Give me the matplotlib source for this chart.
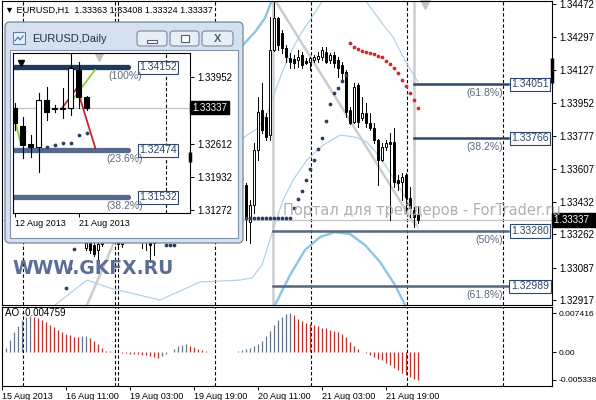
import matplotlib.pyplot as plt
from matplotlib.patches import Rectangle, FancyBboxPatch
from matplotlib.transforms import blended_transform_factory as blend

plt.rcParams['font.family'] = ['Liberation Sans', 'DejaVu Sans']

# ---------------- H1 data (bar index, 4 px per bar) ----------------
h1_bar = [21, 22, 23, 24, 25, 29, 30, 35, 36, 37, 38] + list(range(61, 105))
h1_open = [1.33190, 1.33217, 1.33206, 1.33180, 1.33211, 1.33232, 1.33211, 1.33232, 1.33222, 1.33232, 1.33232,
           1.33521, 1.33327, 1.33416, 1.33705, 1.33915, 1.33878, 1.33784, 1.34230, 1.34398, 1.34320,
           1.34241, 1.34188, 1.34183, 1.34178, 1.34204, 1.34173, 1.34167, 1.34178, 1.34183, 1.34194,
           1.34220, 1.34178, 1.34204, 1.34178, 1.34152, 1.34115, 1.33915, 1.33852, 1.34047, 1.33873,
           1.33899, 1.33847, 1.33821, 1.33758, 1.33653, 1.33721, 1.33747, 1.33747, 1.33547, 1.33537,
           1.33574, 1.33453, 1.33390, 1.33363]
h1_high = [1.33243, 1.33243, 1.33243, 1.33232, 1.33253, 1.33253, 1.33253, 1.33253, 1.33253, 1.33253, 1.33253,
           1.33532, 1.33442, 1.33742, 1.33983, 1.34057, 1.33899, 1.34404, 1.34483, 1.34404, 1.34335,
           1.34257, 1.34215, 1.34204, 1.34230, 1.34220, 1.34188, 1.34194, 1.34204, 1.34220, 1.34246,
           1.34246, 1.34215, 1.34220, 1.34194, 1.34167, 1.34125, 1.33931, 1.34057, 1.34057, 1.33983,
           1.33952, 1.33899, 1.33847, 1.33763, 1.33742, 1.33758, 1.33794, 1.33821, 1.33574, 1.33584,
           1.33584, 1.33511, 1.33406, 1.33408]
h1_low = [1.33180, 1.33164, 1.33148, 1.33117, 1.33201, 1.33190, 1.33195, 1.33190, 1.33180, 1.33117, 1.33153,
          1.33232, 1.33217, 1.33374, 1.33653, 1.33794, 1.33758, 1.33758, 1.34225, 1.34230, 1.34215,
          1.34167, 1.34136, 1.34136, 1.34141, 1.34136, 1.34157, 1.34125, 1.34167, 1.34167, 1.34178,
          1.34162, 1.34162, 1.34141, 1.34089, 1.34062, 1.33878, 1.33842, 1.33847, 1.33826, 1.33863,
          1.33826, 1.33810, 1.33742, 1.33521, 1.33648, 1.33705, 1.33337, 1.33511, 1.33495, 1.33442,
          1.33374, 1.33353, 1.33301, 1.33324]
h1_close = [1.33217, 1.33180, 1.33159, 1.33211, 1.33232, 1.33211, 1.33227, 1.33222, 1.33232, 1.33206, 1.33217,
            1.33353, 1.33416, 1.33705, 1.33905, 1.33810, 1.33773, 1.34230, 1.34398, 1.34257, 1.34241,
            1.34194, 1.34167, 1.34162, 1.34194, 1.34152, 1.34162, 1.34188, 1.34194, 1.34199, 1.34230,
            1.34167, 1.34204, 1.34162, 1.34136, 1.34110, 1.33905, 1.33847, 1.34036, 1.33852, 1.33899,
            1.33847, 1.33821, 1.33758, 1.33653, 1.33721, 1.33742, 1.33736, 1.33537, 1.33532, 1.33563,
            1.33458, 1.33400, 1.33353, 1.33337]

# parabolic SAR
sar_up_bar = [16, 17, 18, 41, 42, 43] + list(range(61, 87))
sar_up = [1.32980, 1.33085, 1.33185, 1.33206, 1.33206, 1.33206,
          1.33348, 1.33348, 1.33348, 1.33348, 1.33348, 1.33348, 1.33348, 1.33348, 1.33348, 1.33348,
          1.33348, 1.33348, 1.33400, 1.33448, 1.33490, 1.33547, 1.33605, 1.33653, 1.33710, 1.33768,
          1.33857, 1.33947, 1.34004, 1.34031, 1.34068, 1.34099]
sar_dn_bar = list(range(87, 105))
sar_dn = [1.34267, 1.34246, 1.34236, 1.34225, 1.34220, 1.34215, 1.34209, 1.34199, 1.34194,
          1.34173, 1.34157, 1.34136, 1.34110, 1.34073, 1.34041, 1.34004, 1.33968, 1.33926]

# band lines (bar position, price)
thick_a_x = [60.25, 63.25, 65.75, 67.5]
thick_a_y = [1.34257, 1.34325, 1.34398, 1.34493]
thick_b_x = [68.25, 72.0, 75.75, 79.5, 83.25, 85.0, 87.0, 90.75, 94.5, 98.25, 100.75]
thick_b_y = [1.32891, 1.33048, 1.33180, 1.33248, 1.33274, 1.33269, 1.33264, 1.33206, 1.33117, 1.32996, 1.32891]
thin_up_x = [90.75, 95.75, 97.75, 100.25, 104.0]
thin_up_y = [1.34493, 1.34351, 1.34299, 1.34194, 1.34062]
thin_mid_x = [60.25, 64.0, 66.5, 67.75, 70.25, 72.75, 74.5, 77.5, 80.25]
thin_mid_y = [1.33768, 1.33821, 1.33905, 1.33983, 1.34125, 1.34241, 1.34309, 1.34404, 1.34493]
thin_lo_x = [13.25, 21.25, 27.0, 39.5, 49.5, 59.5, 62.5, 65.0, 67.75, 70.25, 72.75, 76.25, 80.25,
             84.5, 88.25, 91.25, 94.5, 97.75, 101.25, 104.0]
thin_lo_y = [1.32891, 1.33022, 1.32980, 1.32917, 1.33012, 1.33022, 1.33033, 1.33101, 1.33285, 1.33442,
             1.33547, 1.33653, 1.33731, 1.33784, 1.33773, 1.33747, 1.33668, 1.33563, 1.33442, 1.33295]

trend1_x = [68.25, 103.25]
trend1_y = [1.34493, 1.33311]
trend2_x = [21.25, 34.5]
trend2_y = [1.32891, 1.33537]

# Fibonacci objects
fib_lv = [1.34051, 1.33766, 1.33280, 1.32989]
fib_pct = ['(61.8%)', '(38.2%)', '(50%)', '(61.8%)']
fib_start = [103.0, 103.0, 67.75, 67.75]
fib_col = ['#2d4868', '#2d4868', '#56677d', '#56677d']

# AO histogram
ao = [-0.00075, 0.00082, 0.00226, 0.00383, 0.00509, 0.00616, 0.00679, 0.00691, 0.00679, 0.00647,
      0.00616, 0.00572, 0.00528, 0.00478, 0.00427, 0.00383, 0.00352, 0.00321, 0.00295, 0.00289,
      0.00314, 0.00316, 0.00277, 0.00214, 0.00151, 0.00075, 0.00025, 0.00013, 0.00006, 0.00002,
      -0.00013, -0.00025, -0.00031, -0.00038, -0.00044, -0.00050, -0.00063, -0.00075, -0.00094, -0.00107,
      -0.00075, -0.00044, 0.00006, 0.00057, 0.00107, 0.00138, 0.00145, 0.00119, 0.00088, 0.00063,
      0.00038, 0.00019, 0.00006, 0.00003, 0.00002, 0.00001, -0.00002, -0.00005, 0.00001, 0.00013,
      0.00031, 0.00050, 0.00075, 0.00113, 0.00157, 0.00214, 0.00302, 0.00396, 0.00522, 0.00616,
      0.00679, 0.00723, 0.007416, 0.00704, 0.00641, 0.00603, 0.00566, 0.00541, 0.00515, 0.00497,
      0.00471, 0.00453, 0.00427, 0.00409, 0.00383, 0.00346, 0.00283, 0.00201, 0.00113, 0.00050,
      0.00006, -0.00025, -0.00063, -0.00094, -0.00126, -0.00163, -0.00207, -0.00258, -0.00302, -0.00352,
      -0.00396, -0.00440, -0.00478, -0.00515, -0.005338]

day_sep = [5.25, 28.25, 29.0, 53.25, 77.25, 101.25, 125.25]
time_ticks = [0, 16, 32, 48, 64, 80, 96]
time_labels = ['15 Aug 2013', '16 Aug 11:00', '19 Aug 03:00', '19 Aug 19:00',
               '20 Aug 11:00', '21 Aug 03:00', '21 Aug 19:00']
price_ticks = [1.34472, 1.34297, 1.34127, 1.33952, 1.33777, 1.33607, 1.33432, 1.33262, 1.33087, 1.32917]
ao_ticks = [0.007416, 0.0, -0.005338]
ao_tick_labels = ['0.007416', '0.00', '-0.005338']
last_price = 1.33337

# ---------------- Daily data (inset) ----------------
d_bar = list(range(10))
d_open = [1.33327, 1.32965, 1.32602, 1.32542, 1.33489, 1.33327, 1.33327, 1.33327, 1.34093, 1.33549]
d_high = [1.33428, 1.33146, 1.32783, 1.33630, 1.33751, 1.33388, 1.33730, 1.34436, 1.34254, 1.33569]
d_low = [1.32884, 1.32320, 1.32340, 1.32038, 1.33086, 1.33247, 1.33126, 1.33186, 1.33327, 1.33287]
d_close = [1.33025, 1.32582, 1.32542, 1.33489, 1.33247, 1.33317, 1.33317, 1.34133, 1.33549, 1.33337]
d_sar_bar = [4, 5, 6, 7, 8, 9]
d_sar = [1.32542, 1.32582, 1.32622, 1.32622, 1.32783, 1.32824]
zz_red_x = [5.9, 7.8, 10.1]
zz_red_y = [1.33317, 1.33730, 1.32522]
zz_grn1_x = [0.06, 0.77]
zz_grn1_y = [1.33086, 1.32616]
zz_grn2_x = [7.28, 10.06]
zz_grn2_y = [1.33503, 1.34093]
d_fib_lv = [1.34152, 1.32474, 1.31532]
d_fib_pct = ['(100%)', '(23.6%)', '(38.2%)']
d_fib_col = ['#1d3a5c', '#56698a', '#56698a']
d_price_ticks = [1.33952, 1.32612, 1.31932, 1.31272]
d_time_ticks = [0, 8]
d_time_labels = ['12 Aug 2013', '21 Aug 2013']

W, H = 596, 400
fig = plt.figure(figsize=(W / 100, H / 100), dpi=100)


def box(l, t, r, b, **kw):
    return fig.add_axes([l / W, 1 - b / H, (r - l) / W, (b - t) / H], **kw)


def candles(a, xs, o, h, l, c, w, lw, tiny):
    for x, oo, hh, ll, cc in zip(xs, o, h, l, c):
        a.plot([x, x], [ll, hh], color='black', lw=lw, zorder=3)
        lo, hi = min(oo, cc), max(oo, cc)
        a.add_patch(Rectangle((x - w / 2, lo), w, max(hi - lo, tiny),
                              fc='white' if cc >= oo else 'black', ec='black', lw=lw, zorder=4))


def frame(a):
    for s in a.spines.values():
        s.set_color('black')
        s.set_linewidth(0.8)


# ---------------- main H1 panel ----------------
ax = box(2, 1, 552, 305)
ax.set_xlim(0, 137.5)
ax.set_ylim(1.32891, 1.344878)
frame(ax)
ax.set_xticks([])
ax.yaxis.tick_right()
ax.set_yticks(price_ticks)
ax.set_yticklabels(['%.5f' % p for p in price_ticks])
ax.tick_params(axis='y', direction='out', length=3, width=0.7, pad=2, labelsize=7)

for s in day_sep:
    ax.axvline(s, color='black', lw=0.8, ls=(0, (3, 2)), zorder=1)
ax.axhline(last_price, color='#c4c4c4', lw=0.9, zorder=1)
ax.axvline(67.75, color='#cdcdcd', lw=1.8, zorder=1)
ax.plot([103, 103], [1.34493, 1.33400], color='#cdcdcd', lw=1.8, zorder=1)
ax.plot(trend1_x, trend1_y, color='#cccccc', lw=1.8, zorder=1)
ax.plot(trend2_x, trend2_y, color='#cccccc', lw=1.8, zorder=1)

ax.plot(thick_a_x, thick_a_y, color='#8cc3e6', lw=1.7, zorder=2)
ax.plot(thick_b_x, thick_b_y, color='#8cc3e6', lw=1.7, zorder=2)
for xs, ys in [(thin_up_x, thin_up_y), (thin_mid_x, thin_mid_y), (thin_lo_x, thin_lo_y)]:
    ax.plot(xs, ys, color='#a9cfe6', lw=0.8, zorder=2)

for lv, pct, x0, col in zip(fib_lv, fib_pct, fib_start, fib_col):
    ax.plot([x0, 126.5], [lv, lv], color=col, lw=1.8, zorder=2)
    ax.text(132, lv, '%.5f' % lv, ha='center', va='center', fontsize=7.5, color='#2d4868', zorder=6,
            bbox=dict(boxstyle='square,pad=0.15', fc='white', ec='#2d4868', lw=0.8))
    ax.annotate(pct, (125.3, lv), xytext=(0, -6.3), textcoords='offset points',
                ha='right', va='center', fontsize=7.5, color='#5a6a7e', zorder=6)

candles(ax, h1_bar, h1_open, h1_high, h1_low, h1_close, 0.7, 0.7, 0.00002)
ax.plot(sar_up_bar, sar_up, ls='none', marker='o', ms=1.7, color='#2a3f5f', zorder=5)
ax.plot(sar_dn_bar, sar_dn, ls='none', marker='o', ms=1.7, color='#d12b2b', zorder=5)

ax.plot([105.75], [1.34470], marker='v', ms=7, color='#c2c2c2', clip_on=False, zorder=2)
ax.plot([137.6, 137.6], [1.34057, 1.34188], color='black', lw=2.5, clip_on=False, solid_capstyle='butt')
ax.text(1.004, last_price, '1.33337   ', transform=blend(ax.transAxes, ax.transData),
        ha='left', va='center', fontsize=7, color='white', zorder=7,
        bbox=dict(boxstyle='square,pad=0.2', fc='black', ec='black'))
ax.text(0.006, 0.97, '\u25bc EURUSD,H1  1.33363 1.33408 1.33324 1.33337', transform=ax.transAxes,
        ha='left', va='center', fontsize=6.6, color='black')

# ---------------- AO panel ----------------
ax2 = box(2, 307, 552, 386)
ax2.set_xlim(0, 137.5)
ax2.set_ylim(-0.006538, 0.008654)
frame(ax2)
ax2.yaxis.tick_right()
ax2.set_yticks(ao_ticks)
ax2.set_yticklabels(ao_tick_labels)
ax2.tick_params(axis='y', direction='out', length=3, width=0.7, pad=1.5, labelsize=6.1)
ax2.set_xticks(time_ticks)
ax2.set_xticklabels(time_labels)
ax2.tick_params(axis='x', direction='out', length=3, width=0.7, pad=1.5, labelsize=6.5)
for lbl in ax2.get_xticklabels():
    lbl.set_ha('left')
for s in day_sep:
    ax2.axvline(s, color='black', lw=0.8, ls=(0, (3, 2)), zorder=1)
ao_col = ['#64778c' if (k > 0 and ao[k] > ao[k - 1]) or k == 0 else '#c0302a' for k in range(len(ao))]
ax2.vlines(range(len(ao)), 0, ao, colors=ao_col, lw=0.9, zorder=2)
ax2.text(0.006, 0.92, 'AO -0.004759', transform=ax2.transAxes, ha='left', va='center',
         fontsize=7, color='black', zorder=3)

# ---------------- EURUSD,Daily window ----------------
ov = fig.add_axes([0, 0, 1, 1], zorder=5)
ov.set_xlim(0, W)
ov.set_ylim(H, 0)
ov.axis('off')
ov.add_patch(FancyBboxPatch((5, 22), 238, 221, boxstyle='round,pad=0,rounding_size=5',
                            fc='#d5e1ee', ec='#70869f', lw=0.9))
ov.add_patch(Rectangle((10, 50), 228, 188, fc='white', ec='#8193a8', lw=0.8))
for bx, bw in [(137, 30), (170, 29), (202, 31)]:
    ov.add_patch(FancyBboxPatch((bx, 31), bw, 15, boxstyle='round,pad=0,rounding_size=3',
                                fc='#e8eef6', ec='#7688a0', lw=0.8))
ov.add_patch(Rectangle((147, 39.5), 10, 3, fc='white', ec='#4e5f78', lw=0.8))
ov.add_patch(Rectangle((180.5, 35), 8, 7, fc='white', ec='#4e5f78', lw=0.8))
ov.text(217.5, 38.5, 'X', ha='center', va='center', fontsize=8, color='#4e5f78', weight='bold')
ov.add_patch(Rectangle((13, 32), 12, 12, fc='#e9f1f9', ec='#5d7ea6', lw=0.8))
ov.plot([15, 18, 20, 23], [41, 37, 40, 36], color='#3c6ea8', lw=0.8)
ov.text(32, 38.5, 'EURUSD,Daily', ha='left', va='center', fontsize=8, color='#1e3250')

axd = box(13, 53, 190, 213, zorder=6)
axd.set_xlim(-0.19, 21.94)
axd.set_ylim(1.31212, 1.34436)
frame(axd)
axd.yaxis.tick_right()
axd.set_yticks(d_price_ticks)
axd.set_yticklabels(['%.5f' % p for p in d_price_ticks])
axd.tick_params(axis='y', direction='out', length=3, width=0.7, pad=2, labelsize=7)
axd.set_xticks(d_time_ticks)
axd.set_xticklabels(d_time_labels)
axd.tick_params(axis='x', direction='out', length=3, width=0.7, pad=1.5, labelsize=6.5)
for lbl in axd.get_xticklabels():
    lbl.set_ha('left')

axd.axhline(last_price, color='#c4c4c4', lw=0.9, zorder=1)
axd.axvline(18.94, color='black', lw=0.8, ls=(0, (3, 2)), zorder=1)
for lv, pct, col in zip(d_fib_lv, d_fib_pct, d_fib_col):
    axd.plot([-0.5, 14.2], [lv, lv], color=col, lw=3.8, solid_capstyle='round', zorder=2)
    axd.text(17.94, lv, '%.5f' % lv, ha='center', va='center', fontsize=7.5, color='#2d4868', zorder=6,
             bbox=dict(boxstyle='square,pad=0.15', fc='white', ec='#2d4868', lw=0.8), clip_on=False)
    axd.annotate(pct, (13.8, lv), xytext=(0, -6.3), textcoords='offset points',
                 ha='center', va='center', fontsize=7.5, color='#5a6a7e', zorder=6)
axd.plot(zz_red_x, zz_red_y, color='#c0282d', lw=1.3, zorder=3)
axd.plot(zz_grn1_x, zz_grn1_y, color='#8fd13a', lw=1.3, zorder=3)
axd.plot(zz_grn2_x, zz_grn2_y, color='#8fd13a', lw=1.3, zorder=3)
candles(axd, d_bar, d_open, d_high, d_low, d_close, 0.6, 0.8, 0.00006)
axd.plot(d_sar_bar, d_sar, ls='none', marker='o', ms=1.7, color='#2a3f5f', zorder=5)
axd.plot([10.56], [1.34375], marker='v', ms=7, color='#c2c2c2', zorder=2)
axd.plot([0.8], [1.34234], marker='v', ms=4, color='black', zorder=5)
axd.plot([21.94, 21.94], [1.32239, 1.32441], color='black', lw=2.5, clip_on=False, solid_capstyle='butt')
axd.text(1.012, last_price, '1.33337', transform=blend(axd.transAxes, axd.transData),
         ha='left', va='center', fontsize=7, color='white', zorder=7,
         bbox=dict(boxstyle='square,pad=0.2', fc='black', ec='black'))

# ---------------- watermarks ----------------
fig.text(12 / W, 1 - 268 / H, 'WWW.GKFX.RU', ha='left', va='center', fontsize=13.5,
         weight='bold', color='#5b6e96', family=['DejaVu Sans'], zorder=10)
fig.text(283 / W, 1 - 210 / H, 'Портал для трейдеров - ForTrader.ru', ha='left', va='center',
         fontsize=10.5, color='#a8a8a8', alpha=0.9, family=['DejaVu Sans'], zorder=10)

fig.savefig('out.png', dpi=100)
